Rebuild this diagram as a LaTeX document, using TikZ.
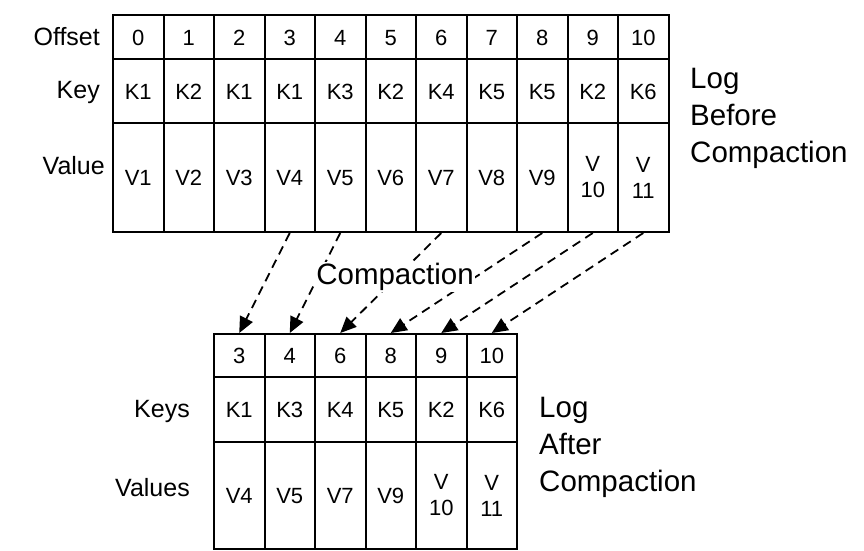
\documentclass[tikz,border=0pt]{standalone}
\usepackage{fontspec}
\setmainfont{Liberation Sans}
\usetikzlibrary{arrows.meta}
\begin{document}
\begin{tikzpicture}[x=1pt,y=-1pt,
  cell/.style={draw, line width=2pt, minimum width=50.5pt, inner sep=0pt,
    font=\fontsize{22}{26}\selectfont, align=center, anchor=north west},
  onecell/.style={cell, text height=16pt, text depth=0pt},
  rowlab/.style={font=\fontsize{25}{30}\selectfont, anchor=east, inner sep=0pt},
  sidelab/.style={font=\fontsize{29.5}{37}\selectfont, align=left, anchor=west, inner sep=0pt},
  move/.style={dash pattern=on 9pt off 6pt, line width=1.8pt,
    -{Triangle[length=16pt,width=14pt]}}]
\useasboundingbox (0,0) rectangle (864,550);
% top table
\foreach \o/\k/\v [count=\i from 0] in {0/K1/V1,1/K2/V2,2/K1/V3,3/K1/V4,4/K3/V5,5/K2/V6,6/K4/V7,7/K5/V8,8/K5/V9}{
  \node[onecell, minimum height=44pt] (o\i) at (112+\i*50.5,14) {\o};
  \node[onecell, minimum height=64pt] (k\i) at (112+\i*50.5,58) {\k};
  \node[onecell, minimum height=109pt] (v\i) at (112+\i*50.5,122) {\v};
}
\node[onecell, minimum height=44pt] (o9) at (112+9*50.5,14) {9};
\node[onecell, minimum height=64pt] (k9) at (112+9*50.5,58) {K2};
\node[cell, minimum height=109pt] (v9) at (112+9*50.5,122) {V\\10};
\node[onecell, minimum height=44pt] (o10) at (112+10*50.5,14) {10};
\node[onecell, minimum height=64pt] (k10) at (112+10*50.5,58) {K6};
\node[cell, minimum height=109pt] (v10) at (112+10*50.5,122) {V\\11};
\node[rowlab] (lo) at (100,37) {Offset};
\node[rowlab] (lk) at (100,92) {Key};
\node[rowlab] (lv) at (105,166) {Value};
\node[sidelab] (lb) at (690,118) {Log\\Before\\Compaction};
% bottom table
\foreach \o/\k/\v [count=\i from 0] in {3/K1/V4,4/K3/V5,6/K4/V7,8/K5/V9}{
  \node[onecell, minimum height=43pt] (bo\i) at (213+\i*50.5,333) {\o};
  \node[onecell, minimum height=65pt] (bk\i) at (213+\i*50.5,376) {\k};
  \node[onecell, minimum height=107pt] (bv\i) at (213+\i*50.5,441) {\v};
}
\node[onecell, minimum height=43pt] (bo4) at (213+4*50.5,333) {9};
\node[onecell, minimum height=65pt] (bk4) at (213+4*50.5,376) {K2};
\node[cell, minimum height=107pt] (bv4) at (213+4*50.5,441) {V\\10};
\node[onecell, minimum height=43pt] (bo5) at (213+5*50.5,333) {10};
\node[onecell, minimum height=65pt] (bk5) at (213+5*50.5,376) {K6};
\node[cell, minimum height=107pt] (bv5) at (213+5*50.5,441) {V\\11};
\node[rowlab] (lks) at (190,411) {Keys};
\node[rowlab] (lvs) at (190,488) {Values};
\node[sidelab] (la) at (539,447) {Log\\After\\Compaction};
% arrows
\draw[move] (v3.south) -- (bo0.north);
\draw[move] (v4.south) -- (bo1.north);
\draw[move] (v6.south) -- (bo2.north);
\draw[move] (v8.south) -- (bo3.north);
\draw[move] (v9.south) -- (bo4.north);
\draw[move] (v10.south) -- (bo5.north);
\node[fill=white, inner sep=1pt, font=\fontsize{29.5}{35}\selectfont] (cp) at (395,277) {Compaction};
\end{tikzpicture}
\end{document}
